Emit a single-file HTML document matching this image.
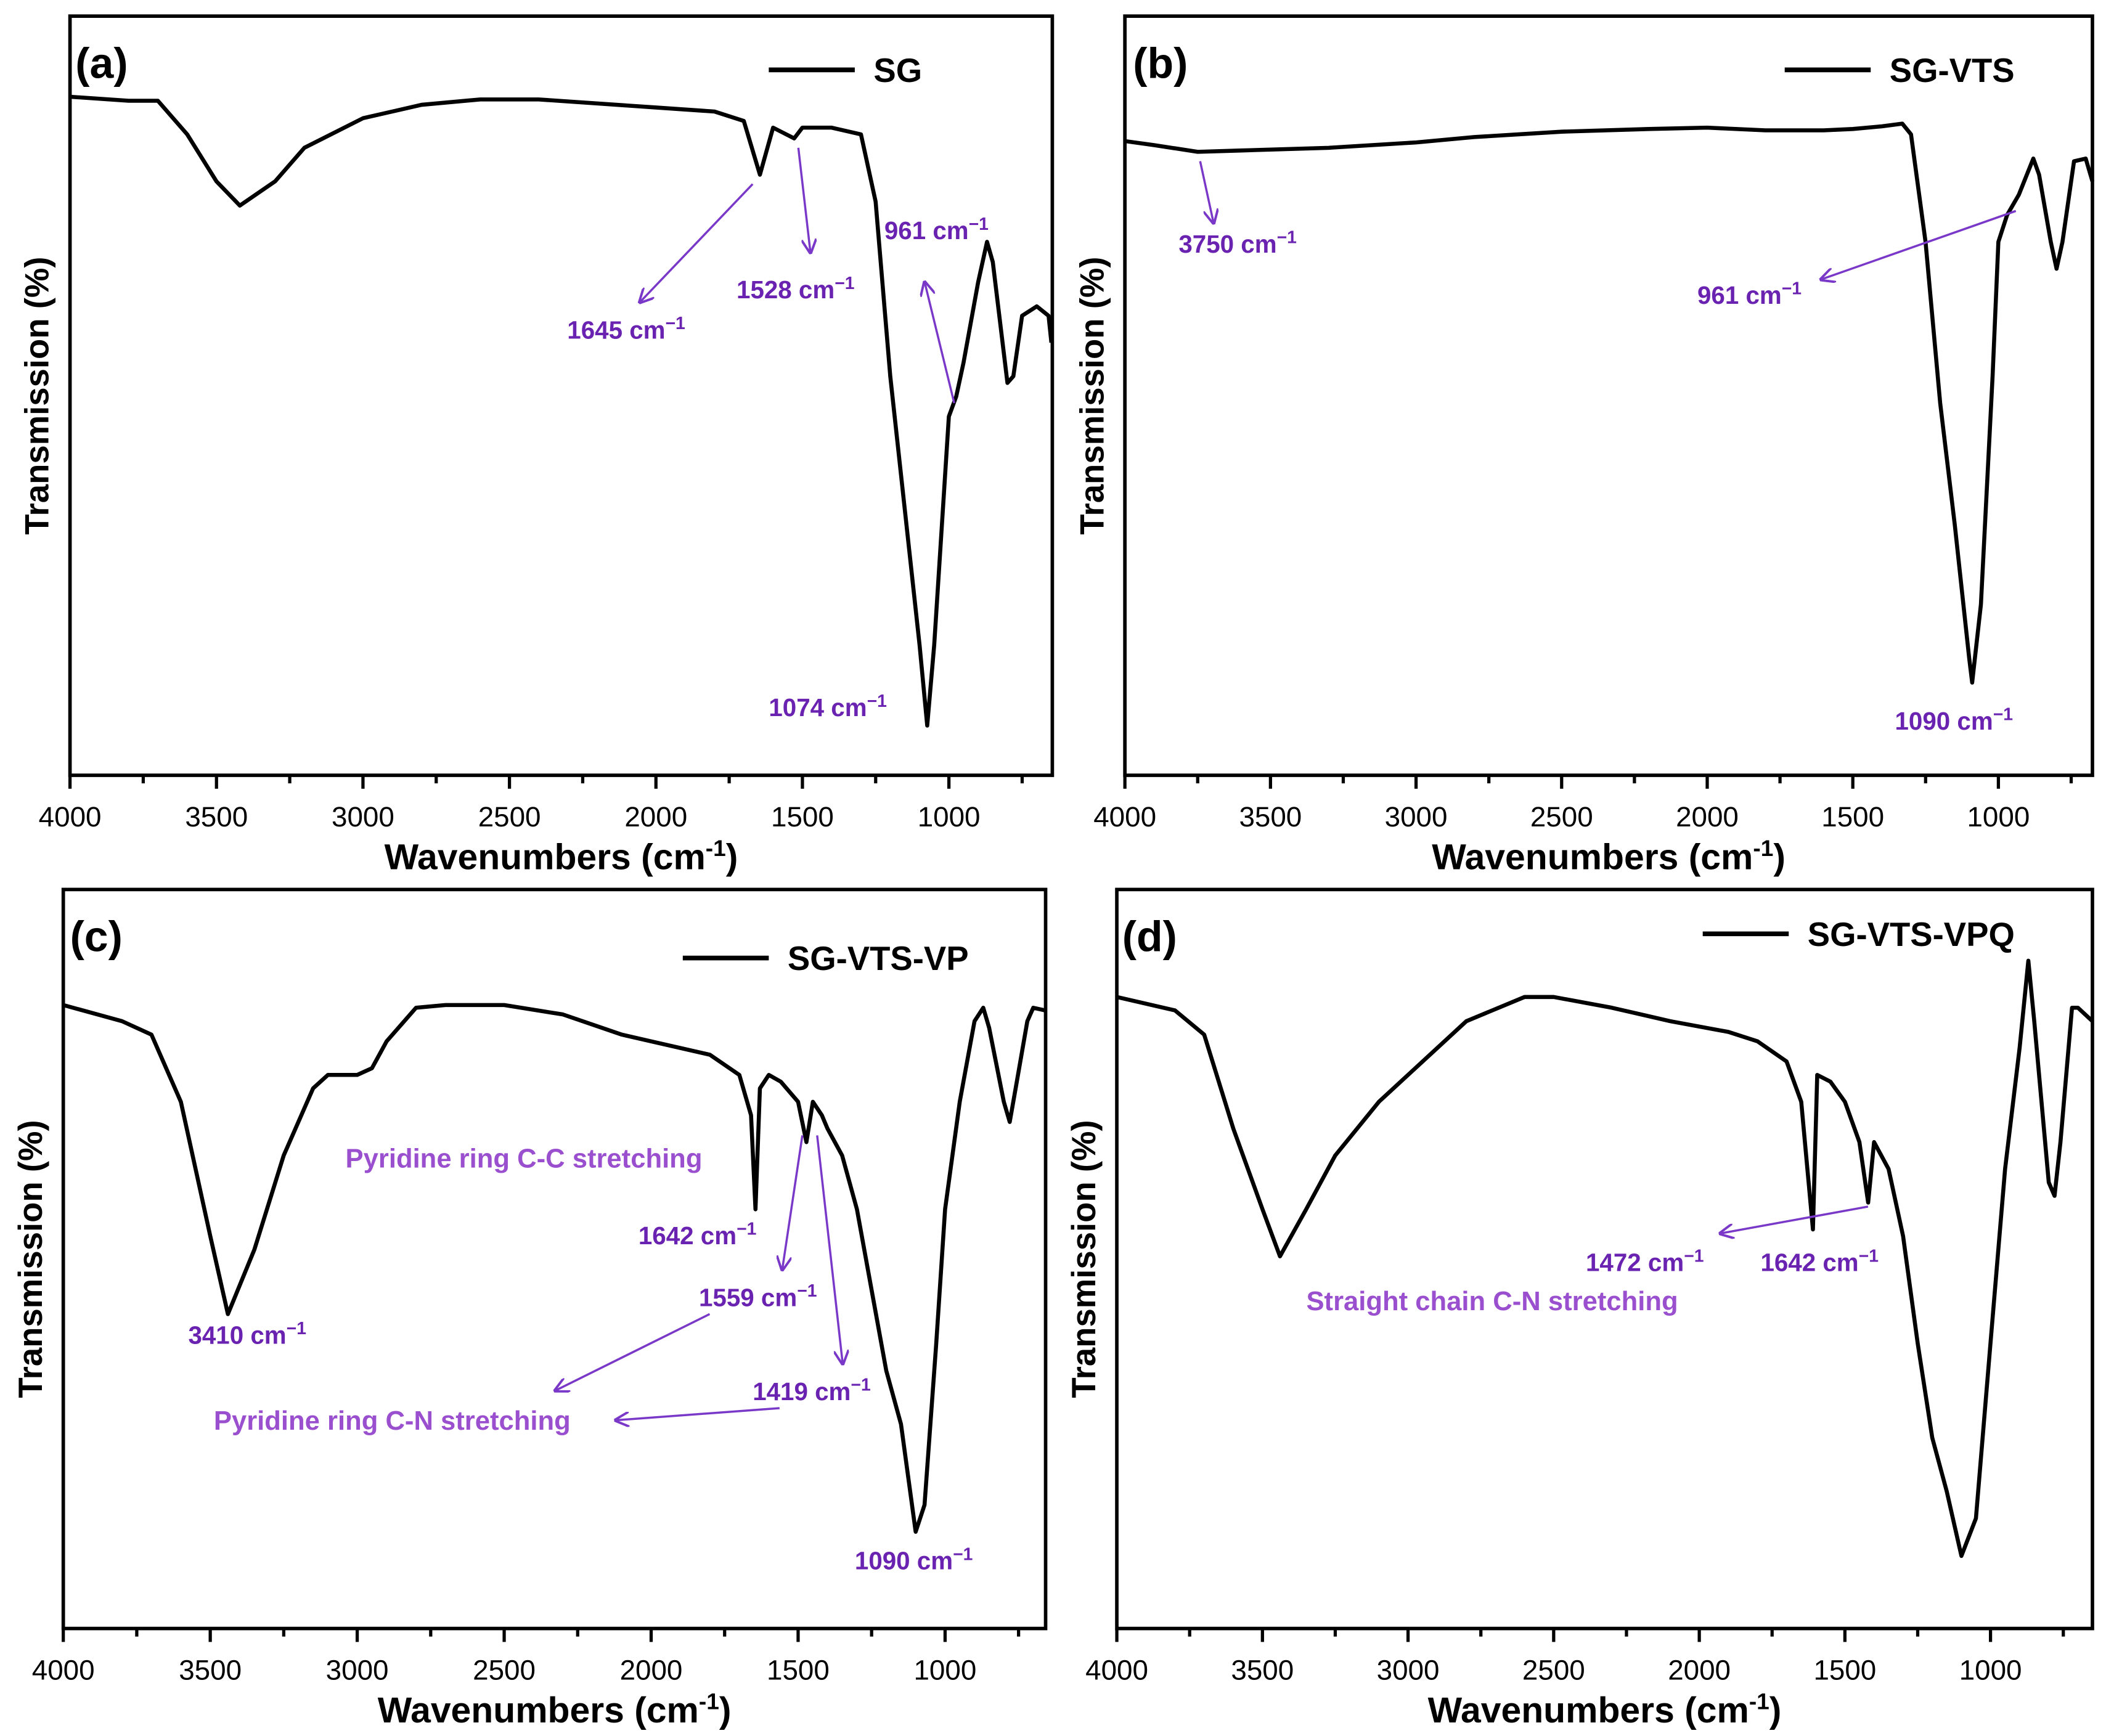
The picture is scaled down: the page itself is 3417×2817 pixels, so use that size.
<!DOCTYPE html>
<html><head><meta charset="utf-8"><style>
html,body{margin:0;padding:0;background:#fff}
svg{display:block}
text{font-family:"Liberation Sans",Arial,sans-serif}
.tk{font-size:21px}
.at{font-size:27px;font-weight:bold}
.yt{font-size:25px;font-weight:bold}
.pl{font-size:32px;font-weight:bold}
.lg{font-size:25px;font-weight:bold}
.an{font-size:18.5px;font-weight:bold;fill:#6a22b0}
.an2{font-size:20px;font-weight:bold;fill:#9a4fcf}
.ar{stroke:#7a38c8;stroke-width:1.6;fill:none}
</style></head><body>
<svg id="fig" width="3417" height="2817" viewBox="0 0 1567 1292" xmlns="http://www.w3.org/2000/svg">
<defs><marker id="ah" viewBox="0 0 10 10" refX="9" refY="5" markerWidth="7" markerHeight="7" orient="auto"><path d="M0,0 L10,5 L0,10" fill="none" stroke="#7a38c8" stroke-width="1.6"/></marker></defs>
<g id="plots"></g>
<g id="annots">
<text class="an" x="422" y="252">1645 cm<tspan dy="-7" font-size="13">−1</tspan></text>
<line class="ar" x1="560" y1="137" x2="476" y2="225" marker-end="url(#ah)"/>
<text class="an" x="548" y="222">1528 cm<tspan dy="-7" font-size="13">−1</tspan></text>
<line class="ar" x1="594" y1="110" x2="603" y2="188" marker-end="url(#ah)"/>
<text class="an" x="658" y="178">961 cm<tspan dy="-7" font-size="13">−1</tspan></text>
<line class="ar" x1="710" y1="300" x2="688" y2="210" marker-end="url(#ah)"/>
<text class="an" x="572" y="533">1074 cm<tspan dy="-7" font-size="13">−1</tspan></text>
<text class="an" x="877" y="188">3750 cm<tspan dy="-7" font-size="13">−1</tspan></text>
<line class="ar" x1="893" y1="120" x2="903" y2="166" marker-end="url(#ah)"/>
<text class="an" x="1263" y="226">961 cm<tspan dy="-7" font-size="13">−1</tspan></text>
<line class="ar" x1="1500" y1="157" x2="1355" y2="208" marker-end="url(#ah)"/>
<text class="an" x="1410" y="543">1090 cm<tspan dy="-7" font-size="13">−1</tspan></text>
<text class="an2" x="257" y="869">Pyridine ring C-C stretching</text>
<text class="an" x="475" y="926">1642 cm<tspan dy="-7" font-size="13">−1</tspan></text>
<text class="an" x="140" y="1000">3410 cm<tspan dy="-7" font-size="13">−1</tspan></text>
<text class="an" x="520" y="972">1559 cm<tspan dy="-7" font-size="13">−1</tspan></text>
<line class="ar" x1="597" y1="845" x2="582" y2="945" marker-end="url(#ah)"/>
<line class="ar" x1="608" y1="845" x2="627" y2="1015" marker-end="url(#ah)"/>
<text class="an" x="560" y="1042">1419 cm<tspan dy="-7" font-size="13">−1</tspan></text>
<text class="an2" x="159" y="1064">Pyridine ring C-N stretching</text>
<line class="ar" x1="528" y1="978" x2="413" y2="1035" marker-end="url(#ah)"/>
<line class="ar" x1="580" y1="1048" x2="458" y2="1057" marker-end="url(#ah)"/>
<text class="an" x="636" y="1168">1090 cm<tspan dy="-7" font-size="13">−1</tspan></text>
<text class="an" x="1180" y="946">1472 cm<tspan dy="-7" font-size="13">−1</tspan></text>
<text class="an" x="1310" y="946">1642 cm<tspan dy="-7" font-size="13">−1</tspan></text>
<line class="ar" x1="1390" y1="898" x2="1280" y2="918" marker-end="url(#ah)"/>
<text class="an2" x="972" y="975">Straight chain C-N stretching</text>
</g>
</svg>
<script>
const NS="http://www.w3.org/2000/svg";
const wnA=[4000,3800,3700,3600,3500,3420,3300,3200,3000,2800,2600,2400,2200,2000,1800,1700,1645,1600,1528,1500,1400,1300,1250,1200,1150,1100,1074,1050,1000,975,950,900,870,850,800,780,750,700,660,650];
const tA=[505,502,502,477,442,424,442,467,489,499,503,503,500,497,494,487,447,482,474,482,482,477,427,297,197,97,37,97,267,282,307,367,397,382,292,297,342,349,342,322];
const wnB=[4000,3900,3750,3600,3300,3000,2800,2500,2200,2000,1800,1600,1500,1400,1330,1300,1250,1200,1150,1100,1090,1060,1020,1000,970,930,880,860,820,800,780,740,700,677];
const tB=[472,469,464,465,467,471,475,479,481,482,480,480,481,483,485,477,397,277,187,87,69,127,297,397,417,432,459,447,397,377,397,457,459,442];
const wnC=[4000,3800,3700,3600,3500,3440,3350,3250,3150,3100,3000,2950,2900,2800,2700,2500,2300,2100,2000,1800,1700,1660,1645,1630,1600,1559,1500,1472,1450,1419,1400,1350,1300,1250,1200,1150,1100,1070,1030,1000,950,900,870,850,800,780,760,720,700,660];
const tC=[464,452,442,392,292,234,282,352,402,412,412,417,437,462,464,464,457,442,437,427,412,382,312,402,412,407,392,362,392,382,372,352,312,252,192,152,72,92,212,312,392,452,462,447,392,377,402,452,462,460];
const wnD=[4000,3800,3700,3600,3500,3440,3350,3250,3100,3000,2900,2800,2600,2500,2300,2100,1900,1800,1700,1650,1610,1595,1550,1500,1450,1420,1400,1350,1300,1250,1200,1150,1100,1050,1000,950,900,870,850,800,780,760,720,700,650];
const tD=[470,460,442,372,312,277,312,352,392,412,432,452,470,470,462,452,444,437,422,392,297,412,407,392,362,317,362,342,292,212,142,102,54,82,212,342,432,497,452,332,322,362,462,462,452];
const xTicks=[4000,3500,3000,2500,2000,1500,1000];
const names=["SG","SG-VTS","SG-VTS-VP","SG-VTS-VPQ"];
const letters=["(a)","(b)","(c)","(d)"];
const panels=[
 {x0:52,x1:783,y0:12,y1:577,wmin:647,ymax:565,wn:wnA,t:tA,lg:[572,52],lab:[56,58]},
 {x0:837,x1:1557,y0:12,y1:577,wmin:677,ymax:565,wn:wnB,t:tB,lg:[1328,52],lab:[843,58]},
 {x0:47,x1:778,y0:662,y1:1212,wmin:658,ymax:550,wn:wnC,t:tC,lg:[508,713],lab:[52,708]},
 {x0:831,x1:1557,y0:662,y1:1212,wmin:650,ymax:550,wn:wnD,t:tD,lg:[1267,695],lab:[835,708]}
];
const root=document.getElementById("plots");
function mk(tag,attrs,parent){const e=document.createElementNS(NS,tag);for(const k in attrs)e.setAttribute(k,attrs[k]);parent.appendChild(e);return e;}
panels.forEach((p,i)=>{
 const g=mk("g",{},root);
 
 
 const sx=w=>p.x0+(4000-w)/(4000-p.wmin)*(p.x1-p.x0);
 const sy=v=>p.y1-v/p.ymax*(p.y1-p.y0);
 let d="";p.wn.forEach((w,j)=>{d+=(j?"L":"M")+sx(w).toFixed(1)+","+sy(p.t[j]).toFixed(1);});
 const path=mk("path",{d:d,fill:"none",stroke:"#000","stroke-width":3,"stroke-linejoin":"round"},g);
 
 
 const fr=mk("rect",{x:p.x0,y:p.y0,width:p.x1-p.x0,height:p.y1-p.y0,fill:"none",stroke:"#000","stroke-width":2.6},g);
 
 
 for(let w=4000;w>=p.wmin;w-=250){
  const major=w%500===0;
  const tl=mk("line",{x1:sx(w),x2:sx(w),y1:p.y1,y2:p.y1+(major?10:6),stroke:"#000","stroke-width":2.4},g);
  
  
 }
 xTicks.forEach(w=>{
  const t=mk("text",{x:sx(w),y:p.y1+38,"text-anchor":"middle",class:"tk"},g);t.textContent=w;
  
  
 });
 const xt=mk("text",{x:(p.x0+p.x1)/2,y:p.y1+70,"text-anchor":"middle",class:"at"},g);
 xt.innerHTML='Wavenumbers (cm<tspan dy="-10" font-size="17">-1</tspan><tspan dy="10">)</tspan>';
 
 
 const yx=p.x0-16, yc=(p.y0+p.y1)/2;
 const yt=mk("text",{x:yx,y:yc,"text-anchor":"middle",class:"yt",transform:`rotate(-90 ${yx} ${yc})`},g);
 yt.textContent="Transmission (%)";
 
 
 const pl=mk("text",{x:p.lab[0],y:p.lab[1],class:"pl"},g);pl.textContent=letters[i];
 
 
 const ll=mk("line",{x1:p.lg[0],x2:p.lg[0]+64,y1:p.lg[1],y2:p.lg[1],stroke:"#000","stroke-width":3.5},g);
 
 
 const lt=mk("text",{x:p.lg[0]+78,y:p.lg[1]+9,class:"lg"},g);lt.textContent=names[i];
 
 
});
</script>
</body></html>
